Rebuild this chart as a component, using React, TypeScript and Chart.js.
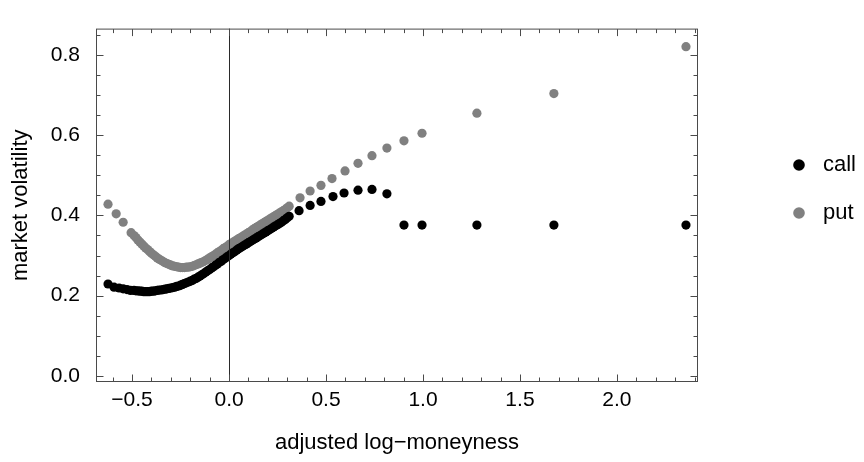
import React, { useEffect, useRef } from 'react';
import { Chart, registerables } from 'chart.js';

Chart.register(...registerables);

// ---------- data ----------
const callX = [
  -0.624, -0.593, -0.567, -0.546, -0.526, -0.508,
  -0.49, -0.48, -0.47, -0.46, -0.45, -0.44, -0.43, -0.42, -0.41, -0.40,
  -0.39, -0.38, -0.37, -0.36, -0.35, -0.34, -0.33, -0.32, -0.31, -0.30,
  -0.29, -0.28, -0.27, -0.26, -0.25, -0.24, -0.23, -0.22, -0.21, -0.20,
  -0.19, -0.18, -0.17, -0.16, -0.15, -0.14, -0.13, -0.12, -0.11, -0.10,
  -0.09, -0.08, -0.07, -0.06, -0.05, -0.04, -0.03, -0.02, -0.01, 0.00,
  0.01, 0.02, 0.03, 0.04, 0.05, 0.06, 0.07, 0.08, 0.09, 0.10,
  0.11, 0.12, 0.13, 0.14, 0.15, 0.16, 0.17, 0.18, 0.19, 0.20,
  0.21, 0.22, 0.23, 0.24, 0.25, 0.26, 0.27, 0.28, 0.29, 0.30,
  0.31,
  0.361, 0.418, 0.474, 0.536, 0.593, 0.665, 0.737, 0.814,
  0.902, 0.995, 1.278, 1.675, 2.356,
];
const callY = [
  0.229, 0.221, 0.219, 0.217, 0.215, 0.213,
  0.213, 0.212, 0.212, 0.211, 0.211, 0.210, 0.210, 0.210, 0.210, 0.211,
  0.211, 0.212, 0.213, 0.214, 0.214, 0.215, 0.216, 0.217, 0.218, 0.219,
  0.220, 0.221, 0.223, 0.224, 0.226, 0.228, 0.230, 0.232, 0.234, 0.236,
  0.238, 0.241, 0.243, 0.246, 0.249, 0.252, 0.255, 0.259, 0.262, 0.265,
  0.269, 0.272, 0.276, 0.279, 0.283, 0.286, 0.290, 0.293, 0.297, 0.300,
  0.304, 0.307, 0.310, 0.314, 0.317, 0.320, 0.323, 0.326, 0.329, 0.332,
  0.335, 0.338, 0.341, 0.344, 0.347, 0.350, 0.353, 0.356, 0.359, 0.362,
  0.365, 0.368, 0.371, 0.374, 0.377, 0.380, 0.383, 0.387, 0.390, 0.394,
  0.398,
  0.412, 0.425, 0.435, 0.447, 0.456, 0.463, 0.465, 0.454,
  0.376, 0.376, 0.376, 0.376, 0.376,
];
const putX = [
  -0.624, -0.582, -0.546, -0.505,
  -0.49, -0.48, -0.47, -0.46, -0.45, -0.44, -0.43, -0.42, -0.41, -0.40,
  -0.39, -0.38, -0.37, -0.36, -0.35, -0.34, -0.33, -0.32, -0.31, -0.30,
  -0.29, -0.28, -0.27, -0.26, -0.25, -0.24, -0.23, -0.22, -0.21, -0.20,
  -0.19, -0.18, -0.17, -0.16, -0.15, -0.14, -0.13, -0.12, -0.11, -0.10,
  -0.09, -0.08, -0.07, -0.06, -0.05, -0.04, -0.03, -0.02, -0.01, 0.00,
  0.01, 0.02, 0.03, 0.04, 0.05, 0.06, 0.07, 0.08, 0.09, 0.10,
  0.11, 0.12, 0.13, 0.14, 0.15, 0.16, 0.17, 0.18, 0.19, 0.20,
  0.21, 0.22, 0.23, 0.24, 0.25, 0.26, 0.27, 0.28, 0.29, 0.30,
  0.31,
  0.366, 0.418, 0.474, 0.531, 0.598, 0.665, 0.737, 0.814,
  0.902, 0.995, 1.278, 1.675, 2.356,
];
const putY = [
  0.428, 0.404, 0.383, 0.357,
  0.350, 0.345, 0.339, 0.334, 0.329, 0.324, 0.319, 0.315, 0.310, 0.306,
  0.302, 0.298, 0.294, 0.291, 0.288, 0.285, 0.282, 0.280, 0.278, 0.276,
  0.274, 0.273, 0.272, 0.271, 0.270, 0.270, 0.270, 0.271, 0.271, 0.272,
  0.273, 0.275, 0.277, 0.279, 0.281, 0.283, 0.285, 0.288, 0.291, 0.294,
  0.297, 0.300, 0.303, 0.307, 0.310, 0.313, 0.317, 0.320, 0.323, 0.327,
  0.330, 0.333, 0.336, 0.339, 0.342, 0.345, 0.348, 0.351, 0.354, 0.357,
  0.360, 0.364, 0.367, 0.370, 0.373, 0.376, 0.379, 0.382, 0.385, 0.388,
  0.391, 0.394, 0.397, 0.400, 0.403, 0.406, 0.409, 0.412, 0.415, 0.419,
  0.423,
  0.444, 0.461, 0.475, 0.492, 0.511, 0.530, 0.549, 0.568,
  0.586, 0.605, 0.655, 0.704, 0.821,
];

const seriesLabels = ['call', 'put'];
const xMajorTicks = [-0.5, 0, 0.5, 1, 1.5, 2];
const xMinorTicks = [-0.6, -0.4, -0.3, -0.2, -0.1, 0.1, 0.2, 0.3, 0.4, 0.6, 0.7, 0.8, 0.9, 1.1, 1.2, 1.3, 1.4, 1.6, 1.7, 1.8, 1.9, 2.1, 2.2, 2.3, 2.4];
const yMajorTicks = [0, 0.2, 0.4, 0.6, 0.8];
const yMinorTicks = [0.05, 0.1, 0.15, 0.25, 0.3, 0.35, 0.45, 0.5, 0.55, 0.65, 0.7, 0.75, 0.85];
const xTitle = 'adjusted log\u2212moneyness';
const yTitle = 'market volatility';

const X_MIN = -0.686;
const X_MAX = 2.418;
const Y_MIN = -0.0154;
const Y_MAX = 0.866;

const FONT_FAMILY = "'Liberation Sans', Arial, Helvetica, sans-serif";
const COLORS = ['#000000', '#808080'];
const FRAME_COLOR = '#4a4a4a';

const fmt = (v: number) => Number(v).toFixed(1).replace('-', '\u2212');

const framePlugin = {
  id: 'frameTicks',
  afterDatasetsDraw(chart: any) {
    const { ctx, chartArea: a, scales } = chart;
    const xs = scales.x;
    const ys = scales.y;
    ctx.save();
    // vertical axis at x = 0
    ctx.strokeStyle = '#2a2a2a';
    ctx.lineWidth = 1;
    const x0 = Math.round(xs.getPixelForValue(0)) + 0.5;
    ctx.beginPath();
    ctx.moveTo(x0, a.top);
    ctx.lineTo(x0, a.bottom);
    ctx.stroke();
    // frame
    ctx.strokeStyle = FRAME_COLOR;
    const L = a.left + 0.5, R = a.right - 0.5, T = a.top + 0.5, B = a.bottom - 0.5;
    ctx.strokeRect(L, T, R - L, B - T);
    const drawX = (vals: number[], len: number) => {
      vals.forEach((v) => {
        const px = Math.round(xs.getPixelForValue(v)) + 0.5;
        ctx.beginPath();
        ctx.moveTo(px, B);
        ctx.lineTo(px, B - len);
        ctx.moveTo(px, T);
        ctx.lineTo(px, T + len);
        ctx.stroke();
      });
    };
    const drawY = (vals: number[], len: number) => {
      vals.forEach((v) => {
        const py = Math.round(ys.getPixelForValue(v)) + 0.5;
        ctx.beginPath();
        ctx.moveTo(L, py);
        ctx.lineTo(L + len, py);
        ctx.moveTo(R, py);
        ctx.lineTo(R - len, py);
        ctx.stroke();
      });
    };
    drawX(xMajorTicks, 7);
    drawX(xMinorTicks, 4);
    drawY(yMajorTicks, 7);
    drawY(yMinorTicks, 4);
    ctx.restore();
  },
};

const legendPlugin = {
  id: 'sideLegend',
  afterDraw(chart: any) {
    const { ctx } = chart;
    ctx.save();
    chart.data.datasets.forEach((ds: any, i: number) => {
      const cy = 165 + i * 48;
      ctx.fillStyle = ds.backgroundColor;
      ctx.beginPath();
      ctx.arc(799, cy, 5.8, 0, Math.PI * 2);
      ctx.fill();
      ctx.fillStyle = '#000';
      ctx.font = `22px ${FONT_FAMILY}`;
      ctx.textBaseline = 'middle';
      ctx.textAlign = 'left';
      ctx.fillText(ds.label, 823, cy);
    });
    ctx.restore();
  },
};

export default function App() {
  const ref = useRef<HTMLCanvasElement>(null);
  useEffect(() => {
    const tickFont = { family: FONT_FAMILY, size: 21 };
    const titleFont = { family: FONT_FAMILY, size: 22 };
    const chart = new Chart(ref.current as HTMLCanvasElement, {
      type: 'scatter',
      data: {
        datasets: [
          {
            label: seriesLabels[0],
            data: callX.map((x, i) => ({ x, y: callY[i] })),
            backgroundColor: COLORS[0],
            borderWidth: 0,
            pointRadius: 4.6,
          },
          {
            label: seriesLabels[1],
            data: putX.map((x, i) => ({ x, y: putY[i] })),
            backgroundColor: COLORS[1],
            borderWidth: 0,
            pointRadius: 4.6,
          },
        ],
      },
      options: {
        animation: false,
        responsive: false,
        devicePixelRatio: 1,
        layout: { padding: { top: 10, right: 166, bottom: 0, left: 0 } },
        plugins: { legend: { display: false }, tooltip: { enabled: false } },
        scales: {
          x: {
            type: 'linear',
            min: X_MIN,
            max: X_MAX,
            grid: { display: false, drawTicks: false },
            border: { display: false },
            afterBuildTicks: (s: any) => {
              s.ticks = xMajorTicks.map((v) => ({ value: v }));
            },
            afterFit: (s: any) => {
              s.height = 80;
            },
            ticks: {
              autoSkip: false,
              maxRotation: 0,
              padding: 6,
              color: '#000',
              font: tickFont,
              callback: (v: any) => fmt(v),
            },
            title: {
              display: true,
              text: xTitle,
              color: '#000',
              font: titleFont,
              padding: { top: 0, bottom: 6 },
            },
          },
          y: {
            type: 'linear',
            min: Y_MIN,
            max: Y_MAX,
            grid: { display: false, drawTicks: false },
            border: { display: false },
            afterBuildTicks: (s: any) => {
              s.ticks = yMajorTicks.map((v) => ({ value: v }));
            },
            afterFit: (s: any) => {
              s.width = 96;
            },
            ticks: {
              autoSkip: false,
              padding: 16,
              color: '#000',
              font: tickFont,
              callback: (v: any) => fmt(v),
            },
            title: {
              display: true,
              text: yTitle,
              color: '#000',
              font: titleFont,
              padding: { top: 8, bottom: 0 },
            },
          },
        },
      } as any,
      plugins: [framePlugin, legendPlugin],
    });
    return () => chart.destroy();
  }, []);
  return (
    <div style={{ position: 'absolute', left: 0, top: 0, width: 864, height: 462, background: '#fff' }}>
      <canvas ref={ref} width={864} height={462} style={{ width: 864, height: 462, display: 'block' }} />
    </div>
  );
}
